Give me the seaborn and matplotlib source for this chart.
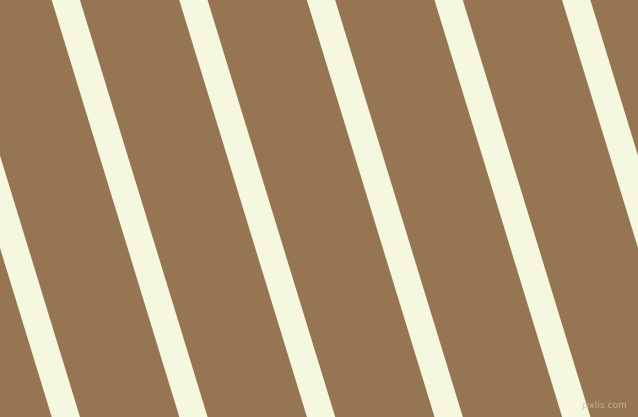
import matplotlib
matplotlib.use("Agg")
import matplotlib.pyplot as plt
import seaborn as sns
import pandas as pd

# Stripe centre x-positions (pixels) at the top edge (y=-20) and bottom edge (y=437)
stripe_ids = ["s0", "s1", "s2", "s3", "s4", "s5", "s6"]
x_top = [-67.9, 59.7, 187.3, 314.9, 442.5, 570.1, 697.7]
x_bottom = [72.0, 199.6, 327.2, 454.8, 582.4, 710.0, 837.6]
y_ends = [-20, 437]
stripe_width = 28.3  # horizontal width of each stripe, pixels

BG = "#967552"
STRIPE = "#F5F7DF"

rows = []
for sid, xt, xb in zip(stripe_ids, x_top, x_bottom):
    rows.append({"stripe": sid, "x": xt, "y": y_ends[0]})
    rows.append({"stripe": sid, "x": xb, "y": y_ends[1]})
df = pd.DataFrame(rows)

sns.set_theme(style="white")
fig = plt.figure(figsize=(6.38, 4.17), dpi=100)
ax = fig.add_axes([0, 0, 1, 1])
ax.set_facecolor(BG)
fig.patch.set_facecolor(BG)

# centre lines via seaborn (thin, hidden under the fills)
sns.lineplot(data=df, x="x", y="y", hue="stripe", units="stripe", estimator=None,
             palette=[STRIPE] * len(stripe_ids), linewidth=1, legend=False,
             ax=ax, sort=False)

half = stripe_width / 2
for sid, g in df.groupby("stripe"):
    ys = g["y"].to_numpy()
    xs = g["x"].to_numpy()
    ax.fill_betweenx(ys, xs - half, xs + half, color=STRIPE, linewidth=0,
                     antialiased=True)

ax.set_xlim(0, 638)
ax.set_ylim(417, 0)
ax.set_axis_off()
ax.text(627, 405, "pixlis.com", color="#C9C2B0", fontsize=6.5, ha="right",
        va="center", family="DejaVu Sans", alpha=0.8)

fig.savefig("out.png", dpi=100, facecolor=BG)
